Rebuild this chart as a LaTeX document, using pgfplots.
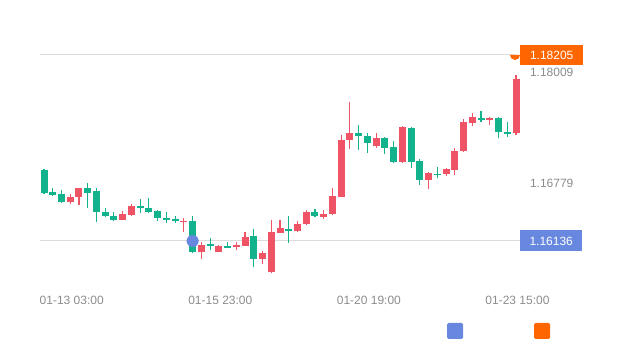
\documentclass[border=0pt]{standalone}
\usepackage{pgfplots}
\pgfplotsset{compat=1.18}
\usepackage{pgfplotstable}
\usepackage{fontspec}
\setmainfont{Liberation Sans}
\definecolor{upc}{RGB}{239,84,102}
\definecolor{dnc}{RGB}{18,178,140}
\definecolor{blueM}{RGB}{104,136,224}
\definecolor{orgM}{RGB}{255,102,0}
\definecolor{lab}{RGB}{140,140,140}
\definecolor{gridc}{RGB}{220,220,220}

% rising candles (red): x open close high low
\pgfplotstableread{
x o c h l
3 1.16570 1.16625 1.16659 1.16542
4 1.16625 1.16720 1.16726 1.16536
9 1.16375 1.16431 1.16475 1.16370
10 1.16425 1.16525 1.16548 1.16414
16 1.16347 1.16364 1.16392 1.16236
18 1.16014 1.16092 1.16130 1.15936
20 1.16019 1.16075 1.16092 1.16014
22 1.16064 1.16092 1.16130 1.16041
23 1.16080 1.16186 1.16236 1.16075
25 1.15941 1.15999 1.16030 1.15880
26 1.15795 1.16233 1.16375 1.15777
27 1.16228 1.16277 1.16370 1.16225
29 1.16242 1.16322 1.16353 1.16236
30 1.16320 1.16462 1.16481 1.16314
32 1.16406 1.16436 1.16481 1.16377
33 1.16436 1.16631 1.16722 1.16425
34 1.16625 1.17265 1.17315 1.16620
35 1.17254 1.17334 1.17677 1.17156
38 1.17196 1.17285 1.17341 1.17167
41 1.17018 1.17399 1.17419 1.17009
44 1.16809 1.16889 1.16904 1.16709
46 1.16881 1.16934 1.16951 1.16862
47 1.16926 1.17141 1.17167 1.16870
48 1.17132 1.17463 1.17490 1.17126
49 1.17454 1.17519 1.17556 1.17415
51 1.17482 1.17501 1.17519 1.17426
54 1.17334 1.17938 1.17988 1.17315
}\up

% falling candles (green): x open close high low
\pgfplotstableread{
x o c h l
0 1.16926 1.16675 1.16937 1.16659
1 1.16681 1.16653 1.16726 1.16637
2 1.16664 1.16575 1.16703 1.16559
5 1.16720 1.16670 1.16781 1.16503
6 1.16687 1.16459 1.16726 1.16342
7 1.16462 1.16414 1.16503 1.16403
8 1.16414 1.16375 1.16459 1.16364
11 1.16525 1.16498 1.16603 1.16448
12 1.16503 1.16464 1.16614 1.16448
13 1.16470 1.16392 1.16481 1.16359
14 1.16392 1.16370 1.16459 1.16336
15 1.16386 1.16353 1.16414 1.16336
17 1.16359 1.16014 1.16409 1.15997
19 1.16103 1.16083 1.16164 1.16036
21 1.16075 1.16058 1.16130 1.16053
24 1.16192 1.15941 1.16264 1.15852
28 1.16270 1.16247 1.16414 1.16119
31 1.16459 1.16409 1.16489 1.16403
36 1.17332 1.17304 1.17426 1.17148
37 1.17307 1.17223 1.17334 1.17112
39 1.17285 1.17167 1.17296 1.17104
40 1.17178 1.17018 1.17252 1.17007
42 1.17393 1.17018 1.17404 1.16945
43 1.17026 1.16815 1.17052 1.16759
45 1.16884 1.16865 1.16956 1.16833
50 1.17501 1.17482 1.17585 1.17463
52 1.17501 1.17352 1.17510 1.17278
53 1.17352 1.17326 1.17463 1.17296
}\down

\begin{document}
\begin{tikzpicture}
\useasboundingbox (0pt,0pt) rectangle (620pt,352pt);
\begin{axis}[
  at={(40pt,62pt)}, anchor=south west,
  scale only axis, width=480pt, height=235pt,
  xmin=-0.458, xmax=54.458,
  ymin=1.15591, ymax=1.18205,
  axis line style={draw=none},
  tick style={draw=none},
  major tick length=0pt,
  xtick={3,20,37,54},
  xticklabels={01-13 03:00,01-15 23:00,01-20 19:00,01-23 15:00},
  xticklabel style={font=\fontsize{12}{14}\selectfont, text=lab, yshift=-3pt, xshift=1.5pt},
  ytick={1.16779,1.18009},
  yticklabels={1.16779,1.18009},
  yticklabel pos=right,
  yticklabel style={font=\fontsize{12}{14}\selectfont, text=lab, anchor=west, xshift=6.5pt},
  clip=false,
]
% mark lines
\addplot[gridc, line width=1pt, forget plot] coordinates {(-0.458,1.16136) (54.458,1.16136)};
\addplot[gridc, line width=1pt, forget plot] coordinates {(-0.458,1.18205) (53.9,1.18205)};
% wicks
\addplot[upc, line width=1.1pt, forget plot, quiver={u=0, v=\thisrow{h}-\thisrow{l}}] table[x=x, y=l] {\up};
\addplot[dnc, line width=1.1pt, forget plot, quiver={u=0, v=\thisrow{h}-\thisrow{l}}] table[x=x, y=l] {\down};
% bodies
\addplot[upc, line width=7pt, forget plot, quiver={u=0, v=\thisrow{c}-\thisrow{o}}] table[x=x, y=o] {\up};
\addplot[dnc, line width=7pt, forget plot, quiver={u=0, v=\thisrow{c}-\thisrow{o}}] table[x=x, y=o] {\down};
% mark point
\addplot[only marks, mark=*, mark size=5.8pt, blueM, forget plot] coordinates {(17,1.16136)};
% labels
\node[fill=blueM, text=white, anchor=west, minimum height=21pt, minimum width=62pt, inner sep=0pt, font=\fontsize{12}{14}\selectfont] at (axis cs:54.458,1.16136) {1.16136};
\node[fill=orgM, text=white, anchor=west, minimum height=20pt, minimum width=63pt, inner sep=0pt, font=\fontsize{12}{14}\selectfont] at (axis cs:54.458,1.18205) {1.18205};
\end{axis}
\fill[orgM] (510pt,297pt) arc[start angle=180, end angle=360, radius=5pt] -- cycle;
% legend swatches
\fill[blueM, rounded corners=1.5pt] (447pt,13pt) rectangle (463pt,29pt);
\fill[orgM, rounded corners=1.5pt] (534pt,13pt) rectangle (550pt,29pt);
\end{tikzpicture}
\end{document}
